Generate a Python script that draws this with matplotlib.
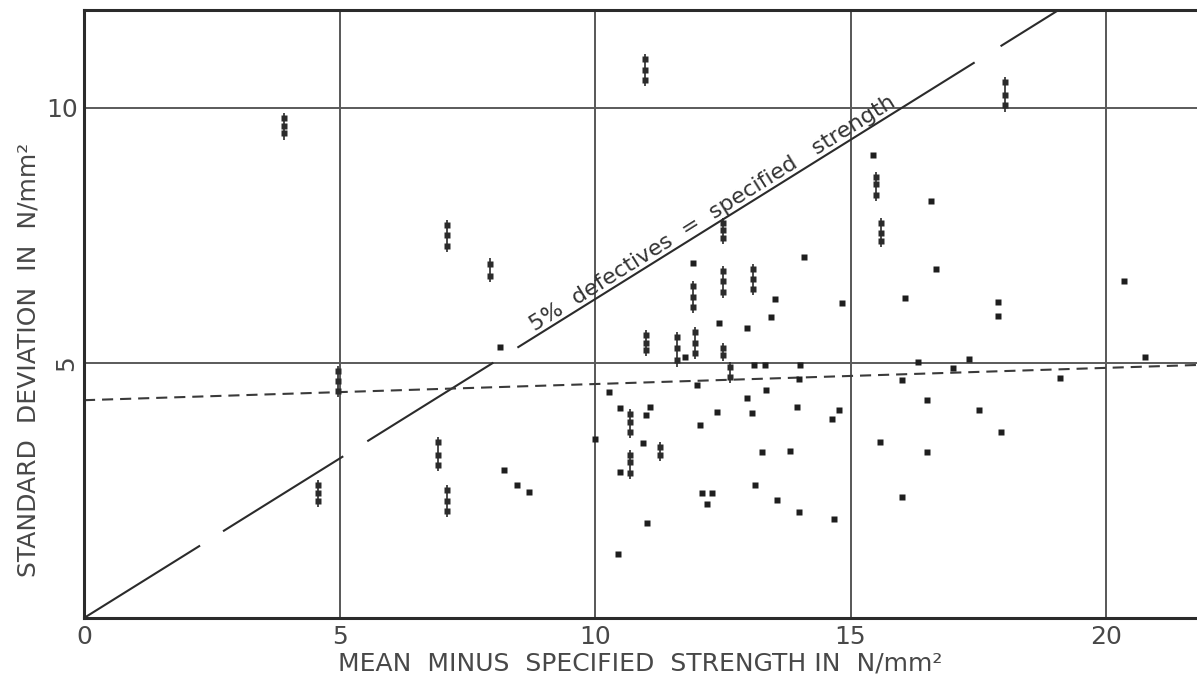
import numpy as np
import matplotlib
matplotlib.use("Agg")
import matplotlib.pyplot as plt

plt.rcParams['font.family'] = ['DejaVu Sans']
plt.rcParams['lines.scale_dashes'] = False

# single test results: mean minus specified strength vs standard deviation
x_single = [8.15, 8.22, 8.48, 8.71, 10.0, 10.28, 10.45, 10.49, 10.49, 10.94,
            11.02, 11.08, 11.0, 11.76, 11.92, 12.0, 12.06, 12.09, 12.29, 12.19,
            12.39, 12.43, 12.97, 12.97, 13.07, 13.13, 13.12, 13.32, 13.27, 13.35,
            13.45, 13.52, 13.56, 13.82, 13.95, 14.0, 14.02, 14.0, 14.09, 14.64,
            14.78, 14.68, 14.83, 15.44, 15.58, 16.0, 16.0, 16.07, 16.33, 16.5,
            16.5, 16.58, 16.67, 17.0, 17.31, 17.52, 17.88, 17.88, 17.94, 19.1,
            20.35, 20.77]
y_single = [5.31, 2.90, 2.60, 2.47, 3.51, 4.43, 1.25, 4.12, 2.86, 3.43,
            1.86, 4.14, 3.98, 5.12, 6.96, 4.57, 3.78, 2.45, 2.45, 2.24,
            4.03, 5.78, 5.68, 4.32, 4.01, 2.61, 4.96, 4.96, 3.26, 4.47,
            5.90, 6.25, 2.32, 3.28, 4.14, 2.08, 4.96, 4.69, 7.08, 3.90,
            4.08, 1.94, 6.18, 9.08, 3.45, 4.67, 2.37, 6.27, 5.02, 4.28,
            3.25, 8.18, 6.84, 4.90, 5.07, 4.07, 6.20, 5.93, 3.65, 4.71,
            6.60, 5.12]

# groups of results sharing one mean value
x_group = [3.91, 4.58, 4.97, 6.93, 7.1, 7.1, 7.95, 10.69, 10.69, 10.98,
           11.0, 11.27, 11.6, 11.92, 11.96, 12.5, 12.5, 12.5, 12.64, 13.1,
           15.5, 15.6, 18.02]
y_group = [[9.5, 9.65, 9.8], [2.3, 2.45, 2.6], [4.45, 4.65, 4.85],
           [3.0, 3.2, 3.45], [7.3, 7.5, 7.7], [2.1, 2.3, 2.5], [6.7, 6.95],
           [3.65, 3.85, 4.0], [2.85, 3.05, 3.2], [10.55, 10.75, 10.95],
           [5.25, 5.4, 5.55], [3.2, 3.35], [5.05, 5.3, 5.5], [6.1, 6.3, 6.5],
           [5.2, 5.4, 5.6], [7.45, 7.6, 7.75], [6.4, 6.6, 6.8], [5.15, 5.3],
           [4.72, 4.92], [6.45, 6.65, 6.85], [8.3, 8.5, 8.65],
           [7.4, 7.55, 7.75], [10.05, 10.25, 10.5]]

# 5% defectives line (sd = mean / 1.6) and fitted trend of sd
defect_slope = 1 / 1.6
trend_a, trend_b = 4.27, 0.0317

x_ticks = [0, 5, 10, 15, 20]
y_ticks = [5, 10]

ink = '#2b2b2b'
grey = '#4a4a4a'
text_grey = '#484848'

fig = plt.figure(figsize=(11.97, 6.85), dpi=100)
ax = fig.add_axes([84 / 1197, 67 / 685, 1113 / 1197, 608 / 685])
ax.set_xlim(0, 21.78)
ax.set_ylim(0, 11.92)

for v in [5, 10, 15, 20]:
    ax.axvline(v, color=grey, lw=1.3, zorder=1)
for v in [5, 10]:
    ax.axhline(v, color='#5a5a5a', lw=1.4, zorder=1)

# long-dash line through the origin
xl = np.array([0, 22])
ax.plot(xl, defect_slope * xl, color=ink, lw=1.5,
        dashes=[98.5, 19.5, 102, 20.4, 107, 20.4, 388, 22, 400], zorder=2)

# short-dash trend line
ax.plot(xl, trend_a + trend_b * xl, color='#3a3a3a', lw=1.5,
        dashes=[8, 5], zorder=2)

# grouped results: vertical bar with marks
for gx, gys in zip(x_group, y_group):
    ax.vlines(gx, min(gys) - 0.12, max(gys) + 0.1, color=ink, lw=1.2, zorder=3)
    ax.plot([gx] * len(gys), gys, 's', ms=3.8, color=ink, mec='none', zorder=3)

ax.plot(x_single, y_single, 's', ms=4.2, color='#1e1e1e', mec='none', zorder=3)

ang = np.degrees(np.arctan(defect_slope))
tx = 12.4
ax.annotate('5%  defectives  =  specified   strength', xy=(tx, defect_slope * tx),
            xytext=(-1, 3), textcoords='offset points',
            rotation=ang, rotation_mode='anchor', transform_rotates_text=True,
            ha='center', va='baseline', fontsize=16, color='#333333')

ax.spines['right'].set_visible(False)
for s in ['left', 'bottom', 'top']:
    ax.spines[s].set_color(ink)
    ax.spines[s].set_linewidth(2.2)

ax.set_xticks(x_ticks)
ax.set_xticklabels([str(t) for t in x_ticks])
ax.set_yticks(y_ticks)
ax.set_yticklabels([str(t) for t in y_ticks])
ax.tick_params(length=0, labelsize=18, labelcolor=text_grey)
ax.tick_params(axis='x', pad=5)
ax.tick_params(axis='y', pad=4)
ax.get_yticklabels()[0].set_rotation(90)
ax.get_yticklabels()[0].set_va('center')

fig.text(0.535, 0.032, 'MEAN  MINUS  SPECIFIED  STRENGTH IN  N/mm²',
         ha='center', va='center', fontsize=18, color=text_grey)
fig.text(0.024, 0.475, 'STANDARD  DEVIATION  IN  N/mm²', rotation=90,
         ha='center', va='center', fontsize=18, color=text_grey)

fig.savefig('out.png', dpi=100, facecolor='white')
